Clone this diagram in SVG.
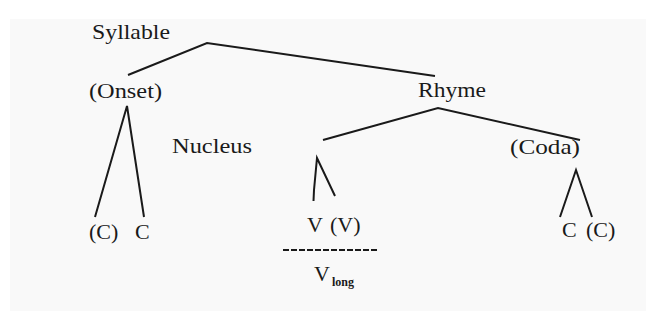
<svg xmlns="http://www.w3.org/2000/svg" width="646" height="325" viewBox="0 0 646 325">
<style>
  .t { font-family: "Liberation Serif", "Times New Roman", serif; font-size: 22px; fill: #1a1a1a; }
  .sub { font-family: "Liberation Serif", "Times New Roman", serif; font-size: 12px; font-weight: bold; fill: #1a1a1a; }
  .ln { fill: none; stroke: #1a1a1a; stroke-width: 2; stroke-linejoin: miter; }
</style>
<rect x="0" y="0" width="646" height="325" fill="#ffffff"/>
<rect x="10" y="19" width="636" height="292" fill="#f9f9f9"/>
<g id="connectors">
  <polyline class="ln" points="128,75 207,43 435,76"/>
  <polyline class="ln" points="95,217 127,106 144,217"/>
  <polyline class="ln" points="323,140 438,108 580,140"/>
  <polyline class="ln" points="313.5,201 314,190 317,158 335,196"/>
  <polyline class="ln" points="560,217 576,170 592,217"/>
  <line class="ln" x1="283" y1="250" x2="379" y2="250" stroke-width="1.5" stroke-dasharray="6 2"/>
</g>
<g id="syllable"><text class="t" x="92" y="39" textLength="78" lengthAdjust="spacingAndGlyphs">Syllable</text></g>
<g id="onset"><text class="t" x="89" y="98" textLength="73" lengthAdjust="spacingAndGlyphs">(Onset)</text></g>
<g id="rhyme"><text class="t" x="418" y="97" textLength="68" lengthAdjust="spacingAndGlyphs">Rhyme</text></g>
<g id="nucleus"><text class="t" x="172" y="153" textLength="80" lengthAdjust="spacingAndGlyphs">Nucleus</text></g>
<g id="coda"><text class="t" x="510" y="154" textLength="70" lengthAdjust="spacingAndGlyphs">(Coda)</text></g>
<g id="onset-c"><text class="t" y="239"><tspan x="89">(C)</tspan><tspan x="135">C</tspan></text></g>
<g id="nucleus-v"><text class="t" y="232"><tspan x="307">V</tspan><tspan x="330">(V)</tspan></text></g>
<g id="coda-c"><text class="t" y="237"><tspan x="562">C</tspan><tspan x="586">(C)</tspan></text></g>
<g id="vlong"><text class="t" x="314" y="281">V</text><text class="sub" x="332" y="286">long</text></g>
</svg>
